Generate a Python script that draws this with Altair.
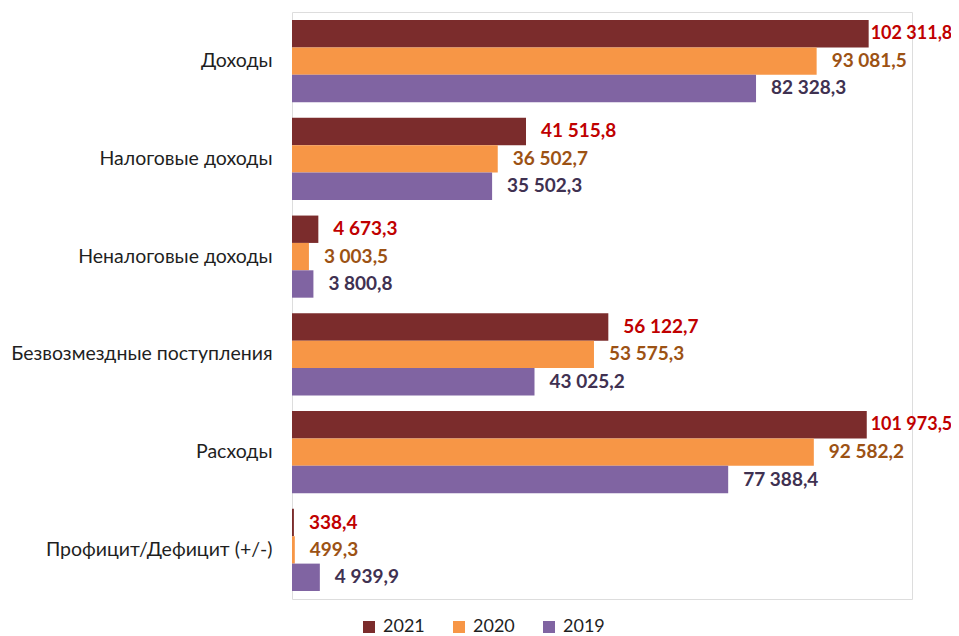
import altair as alt
import pandas as pd

categories = ["Доходы", "Налоговые доходы", "Неналоговые доходы",
              "Безвозмездные поступления", "Расходы", "Профицит/Дефицит (+/-)"]
years = ["2021", "2020", "2019"]
v2021 = [102311.8, 41515.8, 4673.3, 56122.7, 101973.5, 338.4]
v2020 = [93081.5, 36502.7, 3003.5, 53575.3, 92582.2, 499.3]
v2019 = [82328.3, 35502.3, 3800.8, 43025.2, 77388.4, 4939.9]
bar_colors = ["#7B2C2C", "#F79646", "#8064A2"]
label_colors = ["#C00000", "#9C5214", "#3F3151"]
x_ticks = list(range(0, 110001, 10000))

rows = []
for yr, vals in zip(years, [v2021, v2020, v2019]):
    for c, v in zip(categories, vals):
        rows.append({"category": c, "year": yr, "value": v})
df = pd.DataFrame(rows)

FONT = "Lato"

y_enc = alt.Y("category:N", sort=categories, title=None,
              scale=alt.Scale(paddingInner=0.16, paddingOuter=0.082),
              axis=alt.Axis(ticks=False, domain=False, labelPadding=20,
                            labelFontSize=19.5, labelColor="#1f1f1f",
                            labelFont=FONT, labelLimit=400))
yoff = alt.YOffset("year:N", sort=years,
                   scale=alt.Scale(paddingInner=0, paddingOuter=0))

base = alt.Chart(df)

bars = base.mark_bar().encode(
    x=alt.X("value:Q", scale=alt.Scale(domain=[0, 110000], nice=False, zero=True),
            axis=alt.Axis(values=x_ticks, labels=False, ticks=False, domain=False,
                          grid=True, gridColor="#D9D9D9", gridWidth=2, title=None)),
    y=y_enc,
    yOffset=yoff,
    color=alt.Color("year:N", sort=years,
                    scale=alt.Scale(domain=years, range=bar_colors),
                    legend=alt.Legend(orient="none", legendX=68, legendY=606,
                                      direction="horizontal", title=None,
                                      symbolType="square", symbolSize=144,
                                      symbolStrokeWidth=0,
                                      labelFontSize=18, labelFont=FONT,
                                      labelColor="#1f1f1f", columnPadding=25,
                                      labelOffset=5)),
)

text = base.transform_calculate(
    lx="min(datum.value, 100000)"
).mark_text(align="left", baseline="middle", dx=15, font=FONT,
            fontWeight="bold").encode(
    x=alt.X("lx:Q", axis=None),
    y=y_enc,
    yOffset=yoff,
    text=alt.Text("value:Q", format=",.1f"),
    size=alt.condition("datum.value > 99000", alt.value(18), alt.value(19)),
    color=alt.Color("year:N", sort=years,
                    scale=alt.Scale(domain=years, range=label_colors),
                    legend=None),
)

chart = alt.layer(bars, text).resolve_scale(color="independent").properties(
    width=620, height=587,
    padding={"left": 284, "top": 4, "right": 39, "bottom": 37},
    autosize=alt.AutoSizeParams(type="none"),
).configure_view(strokeWidth=0).configure(
    locale={"number": {"decimal": ",", "thousands": " ", "grouping": [3],
                       "currency": ["", ""]}}
)

chart.save("out.html", embed_options={"renderer": "svg", "actions": False})
